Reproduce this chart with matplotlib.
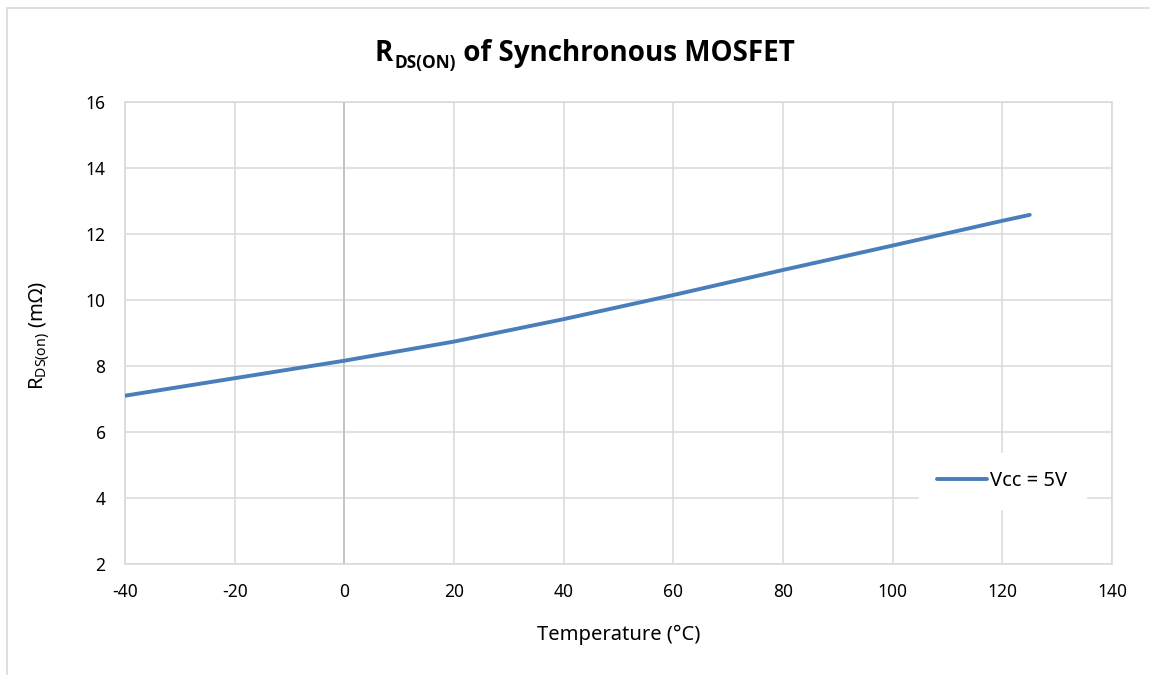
import matplotlib
matplotlib.use("Agg")
import matplotlib.pyplot as plt
from matplotlib.patches import Rectangle
from matplotlib import font_manager as fm

temperature = [-40, -20, 0, 20, 40, 60, 80, 100, 120, 125]
rdson_5v = [7.10, 7.63, 8.16, 8.74, 9.42, 10.15, 10.91, 11.65, 12.40, 12.58]
series_label = "Vcc = 5V"
x_ticks = [-40, -20, 0, 20, 40, 60, 80, 100, 120, 140]
y_ticks = [2, 4, 6, 8, 10, 12, 14, 16]


def bold_family():
    for fam in ['Noto Sans', 'Open Sans', 'Lato', 'Roboto', 'Liberation Sans']:
        for f in fm.fontManager.ttflist:
            if f.name == fam and (f.weight in ('bold', 700) or f.weight == 700):
                return fam
    return 'DejaVu Sans'


BOLD_FAM = bold_family()

plt.rcParams['font.family'] = ['Noto Sans', 'DejaVu Sans']
plt.rcParams['axes.unicode_minus'] = False
plt.rcParams['mathtext.fontset'] = 'custom'
plt.rcParams['mathtext.rm'] = 'Noto Sans'

W, H = 1150, 675
fig = plt.figure(figsize=(W / 100, H / 100), dpi=100)
fig.patch.set_facecolor('white')

# outer chart border
fig.add_artist(Rectangle((7 / W, -0.1), 1.2, 1 - 8 / H + 0.1, transform=fig.transFigure,
                         fill=False, edgecolor='#D9D9D9', linewidth=1.2))

ax = fig.add_axes([125 / W, 1 - 564 / H, (1112 - 125) / W, (564 - 102) / H])
ax.set_xlim(-40, 140)
ax.set_ylim(2, 16)
ax.set_xticks(x_ticks)
ax.set_yticks(y_ticks)
ax.grid(True, color='#D9D9D9', linewidth=1.1)
ax.set_axisbelow(True)
for s in ax.spines.values():
    s.set_color('#D9D9D9')
    s.set_linewidth(1.1)
ax.axvline(0, color='#BFBFBF', linewidth=1.2, zorder=1)
ax.tick_params(length=0, labelsize=12.5, pad=14, colors='#000000')

ax.plot(temperature, rdson_5v, color='#4A7EBB', linewidth=2.8, label=series_label,
        solid_capstyle='round', zorder=3)

leg = ax.legend(loc='center left', bbox_to_anchor=((925 - 125) / (1112 - 125), (564 - 481) / (564 - 102)),
                frameon=True, fontsize=14.5, handlelength=2.5, handletextpad=0.15,
                borderpad=0.6, borderaxespad=0)
leg.get_frame().set_edgecolor('white')
leg.get_frame().set_facecolor('white')
leg.get_frame().set_alpha(1)
leg.get_frame().set_boxstyle('square', pad=0.3)

ax.set_xlabel('Temperature (°C)', fontsize=14.5, labelpad=17)
fig.text(40 / W, 1 - 336 / H, r'R$_{\mathrm{DS(on)}}$ (mΩ)', rotation=90,
         ha='center', va='center', fontsize=14.5)

# title composed of pieces: R + subscript DS(ON) + rest
fig.canvas.draw()
renderer = fig.canvas.get_renderer()
title_size = 20
base_y = 1 - 61 / H
tkw = dict(fontweight='bold', va='baseline', family=[BOLD_FAM, 'DejaVu Sans'])
t1 = fig.text(0, base_y, 'R', fontsize=title_size, **tkw)
t2 = fig.text(0, base_y - 7 / H, 'DS(ON)', fontsize=title_size * 0.62, **tkw)
t3 = fig.text(0, base_y, ' of Synchronous MOSFET', fontsize=title_size, **tkw)
w1 = t1.get_window_extent(renderer).width
w2 = t2.get_window_extent(renderer).width
w3 = t3.get_window_extent(renderer).width
total = w1 + w2 + w3
x0 = 584 - total / 2
t1.set_x(x0 / W)
t2.set_x((x0 + w1 + 1) / W)
t3.set_x((x0 + w1 + w2 + 1) / W)

fig.savefig('out.png', dpi=100)
